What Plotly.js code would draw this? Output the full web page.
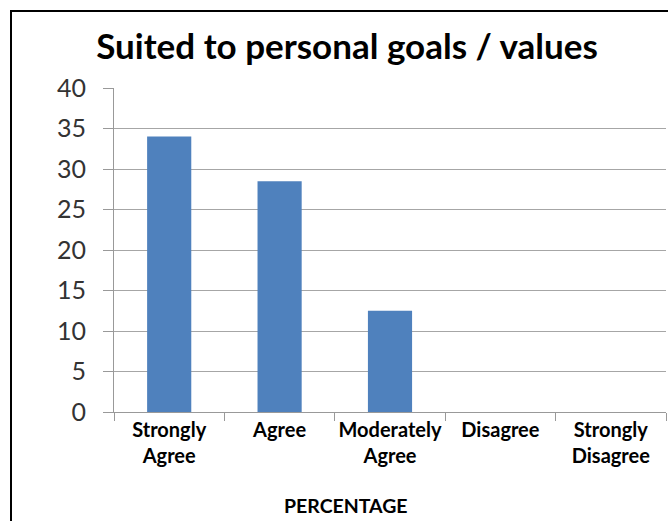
<!DOCTYPE html>
<html>
<head>
<meta charset="utf-8">
<script src="https://cdn.plot.ly/plotly-3.0.1.min.js"></script>
<style>
html,body{margin:0;padding:0;background:#fff;overflow:hidden;}
#chart{width:668px;height:521px;}
</style>
</head>
<body>
<div id="chart"></div>
<script>
const categories = ["Strongly<br>Agree", "Agree", "Moderately<br>Agree", "Disagree", "Strongly<br>Disagree"];
const percentages = [34, 28.5, 12.5, 0, 0];
const yTickValues = [0, 5, 10, 15, 20, 25, 30, 35, 40];
const chartTitle = "Suited to personal goals / values";
const xAxisTitle = "PERCENTAGE";

const trace = {
  type: "bar",
  x: categories,
  y: percentages,
  marker: {color: "#4F81BD"},
  hoverinfo: "x+y"
};

const layout = {
  width: 668,
  height: 521,
  margin: {l: 114, r: 2, t: 88, b: 109},
  paper_bgcolor: "#ffffff",
  plot_bgcolor: "#ffffff",
  bargap: 0.6,
  showlegend: false,
  font: {family: "Lato, 'Open Sans', sans-serif", color: "#222"},
  title: {
    text: "<b>" + chartTitle + "</b>",
    font: {size: 35, color: "#000", family: "Lato, sans-serif"},
    x: 347 / 668, xref: "container", xanchor: "center",
    y: 1 - 47 / 521, yref: "container", yanchor: "middle"
  },
  xaxis: {
    type: "category",
    showline: true, linecolor: "#999", linewidth: 1,
    ticks: "outside", tickson: "boundaries", ticklen: 8, tickcolor: "#999",
    tickangle: 0,
    tickfont: {size: 20, color: "#000", family: "Lato, sans-serif", weight: "bold"},
    showgrid: false,
    fixedrange: true
  },
  yaxis: {
    range: [0, 40],
    tickvals: yTickValues,
    showline: true, linecolor: "#999", linewidth: 1,
    ticks: "outside", ticklen: 10, tickcolor: "#999",
    ticklabelstandoff: 12,
    tickfont: {size: 25, color: "#333", family: "Lato, sans-serif"},
    showgrid: true, gridcolor: "#a6a6a6", gridwidth: 1,
    zeroline: false,
    fixedrange: true
  },
  annotations: [{
    text: "<b>" + xAxisTitle + "</b>",
    xref: "paper", yref: "paper",
    x: (346 - 114) / 552, y: (411.7 - 505) / 323.7,
    xanchor: "center", yanchor: "middle",
    showarrow: false,
    font: {size: 19.5, color: "#000", family: "Lato, sans-serif"}
  }],
  shapes: [{
    type: "rect", xref: "paper", yref: "paper",
    x0: (11 - 114) / 552, x1: (680 - 114) / 552,
    y0: (411.7 - 540) / 323.7, y1: (411.7 - 11) / 323.7,
    line: {color: "#000", width: 2},
    fillcolor: "rgba(0,0,0,0)",
    layer: "below"
  }]
};

Plotly.newPlot("chart", [trace], layout, {displayModeBar: false, staticPlot: true});
</script>
</body>
</html>
